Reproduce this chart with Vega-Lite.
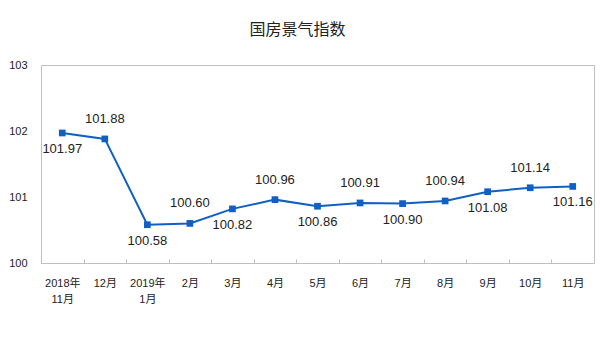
{
  "$schema": "https://vega.github.io/schema/vega-lite/v6.json",
  "width": 553,
  "height": 198,
  "autosize": "none",
  "padding": {"left": 41, "top": 65, "right": 6, "bottom": 95},
  "background": "white",
  "title": {
    "text": "国房景气指数",
    "anchor": "middle",
    "frame": "group",
    "dx": -20,
    "offset": 21,
    "font": "Noto Sans CJK SC",
    "fontSize": 16,
    "fontWeight": "normal",
    "color": "#222222"
  },
  "config": {
    "view": {"stroke": "#BFBFBF", "strokeWidth": 1},
    "axis": {
      "labelFont": "Liberation Sans, Noto Sans CJK SC",
      "labelFontSize": 11,
      "labelColor": "#222222",
      "grid": false,
      "domain": false
    }
  },
  "data": {
    "values": [
      {"month": "2018年11月", "value": 101.97},
      {"month": "12月", "value": 101.88},
      {"month": "2019年1月", "value": 100.58},
      {"month": "2月", "value": 100.60},
      {"month": "3月", "value": 100.82},
      {"month": "4月", "value": 100.96},
      {"month": "5月", "value": 100.86},
      {"month": "6月", "value": 100.91},
      {"month": "7月", "value": 100.90},
      {"month": "8月", "value": 100.94},
      {"month": "9月", "value": 101.08},
      {"month": "10月", "value": 101.14},
      {"month": "11月", "value": 101.16}
    ]
  },
  "encoding": {
    "x": {
      "field": "month",
      "type": "nominal",
      "sort": null,
      "scale": {"type": "band", "paddingInner": 0, "paddingOuter": 0},
      "axis": {
        "title": null,
        "labelAngle": 0,
        "tickBand": "extent",
        "ticks": true,
        "tickSize": -4,
        "tickColor": "#BFBFBF",
        "labelPadding": 18,
        "labelLineHeight": 16,
        "labelExpr": "datum.value == '2018年11月' ? ['2018年', '11月'] : datum.value == '2019年1月' ? ['2019年', '1月'] : datum.value"
      }
    },
    "y": {
      "field": "value",
      "type": "quantitative",
      "scale": {"domain": [100, 103], "zero": false},
      "axis": {
        "title": null,
        "values": [100, 101, 102, 103],
        "ticks": false,
        "labelPadding": 14,
        "format": "d"
      }
    }
  },
  "layer": [
    {
      "mark": {"type": "line", "color": "#0F5FC5", "strokeWidth": 2}
    },
    {
      "mark": {"type": "square", "color": "#0F5FC5", "size": 45, "opacity": 1, "filled": true}
    },
    {
      "transform": [{"filter": {"field": "month", "oneOf": ["12月", "2月", "4月", "6月", "8月", "10月"]}}],
      "mark": {"type": "text", "dy": -20, "font": "Liberation Sans", "fontSize": 13, "color": "#222222"},
      "encoding": {"text": {"field": "value", "type": "quantitative", "format": ".2f"}}
    },
    {
      "transform": [{"filter": {"field": "month", "oneOf": ["2018年11月", "2019年1月", "3月", "5月", "7月", "9月", "11月"]}}],
      "mark": {"type": "text", "dy": 16, "font": "Liberation Sans", "fontSize": 13, "color": "#222222"},
      "encoding": {"text": {"field": "value", "type": "quantitative", "format": ".2f"}}
    }
  ]
}
